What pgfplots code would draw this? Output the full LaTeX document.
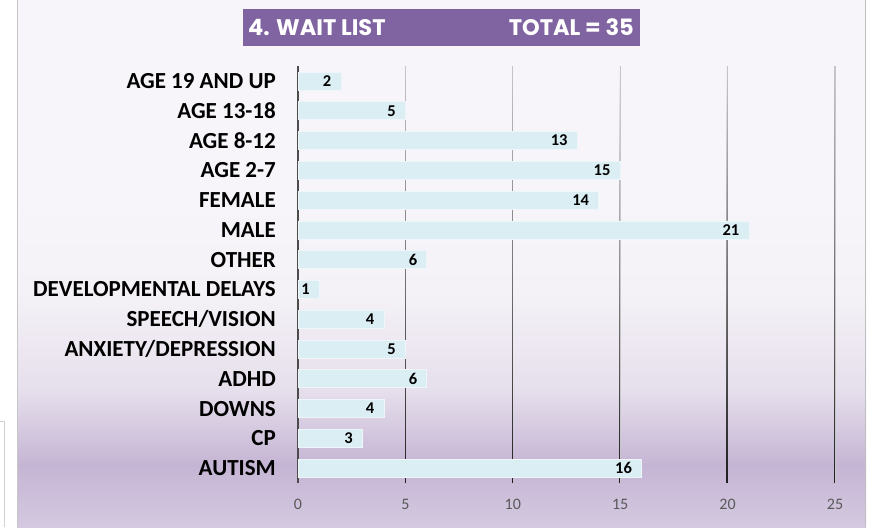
\documentclass[border=0pt]{standalone}
\usepackage{pgfplots}
\pgfplotsset{compat=1.18}
\usepackage{fontspec}
\setmainfont{Carlito}
\newfontfamily\titlefont{Poppins}
\usetikzlibrary{fadings}
\definecolor{barfill}{HTML}{DAEEF3}
\definecolor{baredge}{HTML}{EEF6F9}
\definecolor{titlebg}{HTML}{8064A2}
\definecolor{bgA}{HTML}{F7F5F9}
\definecolor{bgB}{HTML}{F5F2F7}
\definecolor{bgC}{HTML}{E6DFEC}
\definecolor{bgD}{HTML}{C5B5D4}
\definecolor{bgE}{HTML}{D4C9E0}
\definecolor{ticktext}{HTML}{595959}
\pgfplotstableread{
y val
0 16
1 3
2 4
3 6
4 5
5 4
6 1
7 6
8 21
9 14
10 15
11 13
12 5
13 2
}\waitdata
\begin{document}
\begin{tikzpicture}[x=1pt,y=1pt]
\useasboundingbox (0,0) rectangle (869,527);
\fill[white] (0,0) rectangle (869,527);
% panel background (gradient)
\fill[bgA] (17,327) rectangle (866,527);
\shade[top color=bgA, bottom color=bgB] (17,237) rectangle (866,327.2);
\shade[top color=bgB, bottom color=bgC] (17,137) rectangle (866,237.2);
\shade[top color=bgC, bottom color=bgD] (17,62) rectangle (866,137.2);
\shade[top color=bgD, bottom color=bgE] (17,0) rectangle (866,62.2);
\draw[black!22] (17.5,0) -- (17.5,527);
\draw[black!25] (865.5,0) -- (865.5,527);
\draw[black!18] (0,105.5) -- (4.5,105.5) -- (4.5,0);
% title
\fill[titlebg] (243,481) rectangle (640,518);
\node[anchor=west, text=white, font=\titlefont\bfseries\fontsize{22.5}{26}\selectfont, inner sep=0pt] at (248,499.5) {4. WAIT LIST};
\node[anchor=east, text=white, font=\titlefont\bfseries\fontsize{22.5}{26}\selectfont, inner sep=0pt] at (634,499.5) {TOTAL = 35};
\begin{axis}[
  at={(298pt,44pt)}, anchor=south west,
  scale only axis, width=537pt, height=416.8pt,
  xbar, bar width=18pt,
  xmin=0, xmax=25, ymin=-0.5, ymax=13.5,
  xtick={0,5,10,15,20,25},
  ytick={0,...,13},
  yticklabels={AUTISM,CP,DOWNS,ADHD,ANXIETY/DEPRESSION,SPEECH/VISION,DEVELOPMENTAL DELAYS,OTHER,MALE,FEMALE,AGE 2-7,AGE 8-12,AGE 13-18,AGE 19 AND UP},
  axis x line*=bottom, axis y line*=left,
  x axis line style={draw=none},
  y axis line style={draw=black!70, line width=1.6pt},
  major tick length=0pt,
  xmajorgrids,
  major grid style={draw=black!22, line width=1.1pt, postaction={draw=black!88, line width=1.1pt, path fading=north}},
  /pgf/number format/assume math mode=true,
  xticklabel style={font=\fontsize{16}{19}\selectfont, text=ticktext, yshift=-13pt},
  yticklabel style={font=\bfseries\fontsize{23}{27}\selectfont, text=black, inner sep=0pt, xshift=-22pt},
  nodes near coords,
  every node near coord/.append style={font=\bfseries\fontsize{16.5}{19}\selectfont, text=black, anchor=east, xshift=-6pt},
  clip=false,
]
\addplot[fill=barfill, draw=baredge, line width=0.8pt] table[x=val, y=y] {\waitdata};
\end{axis}
\end{tikzpicture}
\end{document}
